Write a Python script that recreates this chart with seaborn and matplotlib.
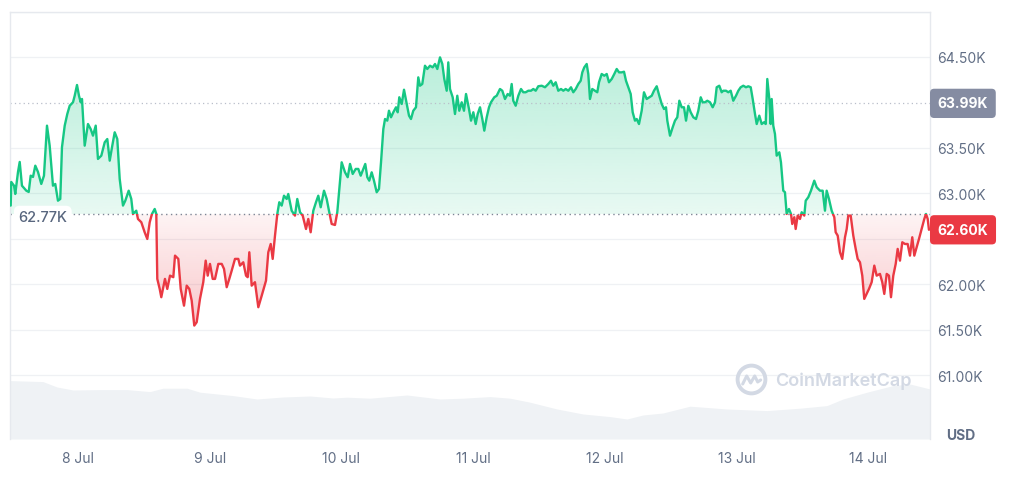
import numpy as np
import matplotlib
matplotlib.use("Agg")
import matplotlib.pyplot as plt
import matplotlib.colors as mcolors
import matplotlib.transforms as mtransforms
from matplotlib.path import Path
import seaborn as sns

# hours since 8 Jul 00:00 and BTC price (USD)
hours = [
    -12.26, -12.16, -11.66, -11.43, -10.93, -10.62, -10.21, -9.42, -8.98, -8.62,
    -8.20, -7.78, -7.29, -6.69, -6.20, -5.65, -5.16, -4.56, -4.14, -3.65,
    -3.23, -2.92, -2.42, -1.95, -1.51, -0.91, -0.60, -0.18, 0.18, 0.49,
    0.73, 1.22, 1.82, 2.31, 2.73, 3.23, 3.64, 4.25, 4.87, 5.34,
    5.78, 6.25, 6.69, 7.16, 7.60, 8.20, 8.62, 9.24, 9.71, 10.02,
    10.62, 10.93, 11.54, 12.15, 12.63, 13.07, 13.48, 13.98, 14.27, 14.45,
    14.89, 15.18, 15.85, 16.27, 16.77, 17.37, 17.68, 18.28, 18.72, 19.32,
    19.81, 20.28, 20.72, 21.19, 21.63, 22.23, 22.83, 23.27, 23.64, 24.05,
    24.55, 24.97, 25.57, 26.19, 26.61, 27.10, 27.57, 28.01, 28.61, 29.21,
    29.52, 30.12, 30.62, 30.92, 31.22, 31.65, 32.25, 32.86, 33.48, 34.26,
    34.68, 35.12, 35.48, 35.90, 36.32, 36.68, 37.12, 37.54, 38.03, 38.32,
    38.94, 39.54, 39.96, 40.46, 40.95, 41.55, 41.97, 42.40, 42.88, 43.37,
    43.79, 44.23, 44.83, 45.32, 45.79, 46.23, 46.83, 47.25, 47.62, 48.05,
    48.66, 49.15, 49.57, 50.06, 50.61, 51.08, 51.52, 51.88, 52.35, 52.72,
    53.08, 53.52, 53.94, 54.43, 54.85, 55.22, 55.64, 55.95, 56.36, 56.67,
    57.04, 57.46, 57.95, 58.26, 58.55, 58.99, 59.41, 59.90, 60.32, 60.68,
    61.10, 61.59, 62.01, 62.32, 62.74, 63.23, 63.65, 64.15, 64.64, 65.06,
    65.48, 65.97, 66.39, 66.75, 67.19, 67.48, 67.79, 68.28, 68.70, 69.12,
    69.48, 69.92, 70.34, 70.71, 71.25, 71.62, 72.04, 72.47, 72.84, 73.26,
    73.68, 74.04, 74.48, 74.90, 75.26, 75.86, 76.30, 76.90, 77.32, 77.81,
    78.30, 78.72, 79.03, 79.32, 79.76, 80.24, 80.73, 81.15, 81.58, 82.06,
    82.55, 82.97, 83.41, 83.88, 84.50, 85.10, 85.70, 86.19, 86.61, 87.05,
    87.52, 88.02, 88.44, 88.87, 89.35, 89.84, 90.26, 90.70, 91.17, 91.61,
    91.90, 92.26, 92.70, 92.99, 93.30, 93.72, 94.21, 94.63, 94.94, 95.43,
    95.91, 96.35, 96.76, 97.26, 97.73, 98.17, 98.59, 99.08, 99.50, 99.86,
    100.28, 100.72, 101.08, 101.50, 101.81, 102.23, 102.72, 103.14, 103.63, 104.11,
    104.55, 104.96, 105.46, 105.93, 106.37, 106.79, 107.15, 107.39, 107.88, 108.37,
    108.79, 109.21, 109.58, 110.01, 110.43, 110.80, 111.22, 111.65, 112.13, 112.62,
    113.04, 113.48, 113.84, 114.26, 114.68, 115.17, 115.66, 116.08, 116.39, 116.86,
    117.30, 117.59, 118.09, 118.50, 118.94, 119.41, 119.91, 120.33, 120.76, 121.24,
    121.73, 122.15, 122.59, 122.95, 123.37, 123.68, 124.15, 124.59, 125.01, 125.32,
    125.61, 125.98, 126.23, 126.41, 126.70, 127.01, 127.32, 127.80, 128.10, 128.52,
    128.83, 129.14, 129.56, 129.93, 130.16, 130.53, 130.78, 131.15, 131.57, 131.88,
    132.35, 132.61, 133.08, 133.57, 134.17, 134.61, 135.21, 135.70, 136.12, 136.43,
    136.85, 137.34, 137.82, 138.07, 138.44, 138.86, 139.27, 139.77, 140.08, 140.37,
    140.81, 141.28, 141.72, 142.08, 142.50, 142.92, 143.28, 143.72, 144.14, 144.63,
    145.11, 145.54, 146.14, 146.56, 146.93, 147.37, 147.78, 148.15, 148.57, 149.01,
    149.37, 149.79, 150.21, 150.70, 151.19, 151.61, 152.03, 152.40, 152.83, 153.25,
    153.74, 154.22, 154.53, 154.84, 155.07,
]
price = [
    62866, 63126, 63085, 62994, 63236, 63346, 63085, 63030, 63016, 63195,
    63181, 63305, 63236, 63104, 63195, 63745, 63525, 63085, 63104, 62920,
    62939, 63507, 63745, 63873, 63964, 64002, 64074, 64192, 64074, 64002,
    64038, 63525, 63763, 63708, 63635, 63745, 63379, 63415, 63562, 63598,
    63360, 63525, 63672, 63598, 63159, 62866, 62920, 63030, 62939, 62774,
    62810, 62719, 62683, 62573, 62499, 62683, 62774, 62829, 62774, 62060,
    61950, 61859, 62060, 61950, 62096, 62079, 62316, 62280, 61950, 61766,
    61986, 61950, 61821, 61547, 61584, 61840, 62024, 62261, 62096, 62225,
    62060, 62060, 62225, 62225, 62170, 61969, 62060, 62151, 62280, 62280,
    62206, 62243, 62096, 62079, 62353, 61986, 62024, 61749, 61876, 62041,
    62353, 62444, 62280, 62536, 62774, 62903, 62866, 62975, 62939, 62994,
    62810, 62756, 62939, 62793, 62756, 62609, 62719, 62573, 62810, 62903,
    62975, 62848, 63030, 62939, 62793, 62664, 62653, 62793, 63049, 63342,
    63232, 63178, 63324, 63214, 63269, 63269, 63195, 63250, 63324, 63178,
    63140, 63232, 63140, 63013, 63049, 63342, 63708, 63818, 63800, 63909,
    63837, 63892, 63947, 63892, 64057, 63983, 64140, 63983, 63855, 63818,
    63909, 63947, 64276, 64184, 64203, 64404, 64368, 64404, 64386, 64423,
    64368, 64496, 64423, 64258, 64129, 64441, 64148, 64057, 63873, 64074,
    63909, 64002, 63909, 64093, 63928, 63800, 63892, 63763, 63873, 63947,
    63818, 63690, 63837, 63947, 64002, 64057, 64074, 64148, 64129, 64038,
    64093, 64074, 64203, 64019, 63964, 64074, 64148, 64112, 64112, 64129,
    64129, 64148, 64129, 64178, 64184, 64167, 64203, 64239, 64184, 64222,
    64129, 64148, 64129, 64148, 64129, 64167, 64112, 64148, 64203, 64239,
    64331, 64386, 64423, 64313, 64038, 64148, 64129, 64112, 64222, 64313,
    64294, 64313, 64222, 64258, 64313, 64368, 64331, 64331, 64338, 64239,
    64167, 64093, 63892, 63800, 63818, 63763, 63909, 64112, 64038, 64057,
    64074, 64129, 64178, 64074, 63983, 63928, 63947, 63800, 63635, 63727,
    63800, 63837, 64019, 63947, 63947, 63800, 63964, 63892, 63837, 63818,
    63909, 64057, 64002, 64002, 64019, 64002, 63947, 64002, 64167, 64184,
    64112, 64129, 64129, 64112, 64129, 64019, 64074, 64129, 64167, 64184,
    64167, 64178, 64167, 64038, 63873, 63763, 63855, 63763, 63782, 63763,
    64258, 64038, 63763, 64038, 63745, 63653, 63415, 63452, 63342, 63030,
    63013, 62774, 62829, 62774, 62664, 62738, 62609, 62756, 62719, 62793,
    62756, 62920, 62958, 63030, 63140, 63068, 63030, 63030, 62810, 63030,
    62939, 62810, 62738, 62573, 62536, 62353, 62280, 62518, 62609, 62756,
    62756, 62536, 62390, 62280, 62243, 62096, 61840, 61895, 61950, 62024,
    62206, 62096, 62115, 62024, 61895, 62115, 62096, 61859, 62096, 62225,
    62390, 62261, 62463, 62444, 62444, 62316, 62518, 62316, 62408, 62499,
    62609, 62719, 62774, 62719, 62600,
]

# traded volume (relative, USD bn)
vol_hours = [
    -12.39, -6.38, -3.83, -0.91, 4.01, 8.93, 13.12, 15.49, 19.86, 22.23,
    28.25, 32.62, 37.36, 42.28, 46.47, 49.02, 53.21, 59.95, 65.97, 70.16,
    75.08, 78.72, 82.37, 87.29, 92.03, 96.95, 100.04, 102.96, 106.60, 111.52,
    118.27, 125.56, 131.57, 136.49, 139.41, 143.78, 148.52, 151.61, 155.26,
]
volume = [
    29.2, 28.7, 26.0, 24.5, 24.7, 24.7, 23.7, 25.4, 25.4, 23.4,
    21.7, 20.0, 21.0, 21.5, 20.5, 20.9, 20.4, 22.0, 20.0, 20.4,
    21.2, 20.4, 18.4, 15.0, 12.5, 11.2, 10.0, 12.0, 13.0, 16.4,
    15.0, 14.2, 15.4, 16.7, 20.0, 23.4, 26.7, 27.5, 25.0,
]

open_price = 62770
high_mark = 63990
last_price = 62600

day_ticks = [0, 24, 48, 72, 96, 120, 144]
day_labels = ["8 Jul", "9 Jul", "10 Jul", "11 Jul", "12 Jul", "13 Jul", "14 Jul"]
price_ticks = [61000, 61500, 62000, 63000, 63500, 64500]
price_labels = ["61.00K", "61.50K", "62.00K", "63.00K", "63.50K", "64.50K"]
grid_levels = [61000, 61500, 62000, 62500, 63000, 63500, 64500, 65000]

GREEN = "#16c784"
RED = "#ea3943"
TEXT = "#616e85"
WATERMARK = "#d3d9e4"

sns.set_style("white")
plt.rcParams["font.family"] = ["Inter", "DejaVu Sans"]

fig = plt.figure(figsize=(10.15, 4.81), dpi=100)
pos = [10 / 1015, 41 / 481, 920 / 1015, 427.5 / 481]
ax_vol = fig.add_axes(pos)
ax = fig.add_axes(pos)
ax.patch.set_visible(False)

x0, x1 = -12.39, 155.26
y0, y1 = 60300, 65000

# volume area at the bottom
ax_vol.fill_between(vol_hours, volume, 0, color="#eff2f5", lw=0)
ax_vol.set_xlim(x0, x1)
ax_vol.set_ylim(0, 213.75)
ax_vol.axis("off")

# grid
for g in grid_levels:
    ax.axhline(g, color="#eff1f4", lw=0.9, zorder=0)

# gradient fills above / below the open price
t = np.array(hours)
p = np.array(price)
up = ax.fill_between(t, p, open_price, where=p >= open_price, interpolate=True, lw=0)
dn = ax.fill_between(t, p, open_price, where=p <= open_price, interpolate=True, lw=0)
up.set_visible(False)
dn.set_visible(False)


def gradient(coll, color, lo, hi, a_lo, a_hi):
    clip = Path.make_compound_path(*coll.get_paths())
    z = np.zeros((256, 1, 4))
    z[..., :3] = mcolors.to_rgb(color)
    z[..., 3] = np.linspace(a_lo, a_hi, 256)[:, None]
    im = ax.imshow(z, aspect="auto", origin="lower", extent=[x0, x1, lo, hi],
                   zorder=1, interpolation="bilinear")
    im.set_clip_path(clip, ax.transData)


gradient(up, GREEN, open_price, p.max(), 0.10, 0.30)
gradient(dn, RED, p.min(), open_price, 0.28, 0.06)

# reference lines
ax.axhline(high_mark, color="#b9bfca", lw=0.9, ls=(0, (1, 2.5)), zorder=2)
ax.axhline(open_price, color="#7d8595", lw=1.0, ls=(0, (1, 2.5)), zorder=2)

# price line, green above / red below the open
for color, lo, hi in [(GREEN, open_price, y1), (RED, y0, open_price)]:
    sns.lineplot(x=hours, y=price, ax=ax, color=color, lw=1.7,
                 estimator=None, sort=False, zorder=3)
    line = ax.lines[-1]
    line.set_solid_joinstyle("round")
    rect = Path([(x0, lo), (x1, lo), (x1, hi), (x0, hi), (x0, lo)], closed=True)
    line.set_clip_path(rect, ax.transData)

ax.set_xlim(x0, x1)
ax.set_ylim(y0, y1)
ax.set_xlabel("")
ax.set_ylabel("")

ax.set_xticks(day_ticks, day_labels)
ax.tick_params(axis="x", length=0, pad=9, labelsize=10, labelcolor=TEXT)
ax.yaxis.tick_right()
ax.set_yticks(price_ticks, price_labels)
ax.tick_params(axis="y", length=0, pad=5, labelsize=10, labelcolor=TEXT)

ax.spines["bottom"].set_visible(False)
for s in ["left", "right", "top"]:
    ax.spines[s].set_color("#e6e9ee")
    ax.spines[s].set_linewidth(1)

# value tags
blend = mtransforms.blended_transform_factory(ax.transAxes, ax.transData)
ax.annotate("63.99K", xy=(1, high_mark), xycoords=blend, xytext=(5.5, 0),
            textcoords="offset points", ha="left", va="center", color="white",
            fontsize=10, fontweight="bold", annotation_clip=False,
            bbox=dict(boxstyle="round,pad=0.55,rounding_size=0.3", fc="#858ca2", ec="none"))
ax.annotate("62.60K", xy=(1, last_price), xycoords=blend, xytext=(5.5, 0),
            textcoords="offset points", ha="left", va="center", color="white",
            fontsize=10, fontweight="bold", annotation_clip=False,
            bbox=dict(boxstyle="round,pad=0.55,rounding_size=0.3", fc=RED, ec="none"))
ax.annotate("62.77K", xy=(0, open_price), xycoords=blend, xytext=(6, -2),
            textcoords="offset points", ha="left", va="center", color="#58667e",
            fontsize=10.5, fontweight="medium", zorder=4,
            bbox=dict(boxstyle="round,pad=0.3,rounding_size=0.4", fc="white", ec="none"))

fig.text(961 / 1015, 1 - 436 / 481, "USD", ha="center", va="center",
         fontweight="bold", color=TEXT, fontsize=10)

# watermark
cx, cy = 0.8051, 0.1404
ax.plot([cx], [cy], marker="o", ms=20, mfc="none", mec=WATERMARK, mew=2.8,
        transform=ax.transAxes, clip_on=False, zorder=2)
wave = [(-8, 5), (-4, -3), (0, 4), (4, -3), (7, 3), (10, 1)]
ax.plot([cx + dx / 920 for dx, dy in wave], [cy - dy / 427.5 for dx, dy in wave],
        color=WATERMARK, lw=2.2, transform=ax.transAxes, solid_capstyle="round", zorder=2)
ax.text(0.8315, 0.138, "CoinMarketCap", transform=ax.transAxes, fontsize=13,
        color=WATERMARK, fontweight="semibold", va="center", ha="left", zorder=2)

fig.savefig("out.png", dpi=100, facecolor="white")
